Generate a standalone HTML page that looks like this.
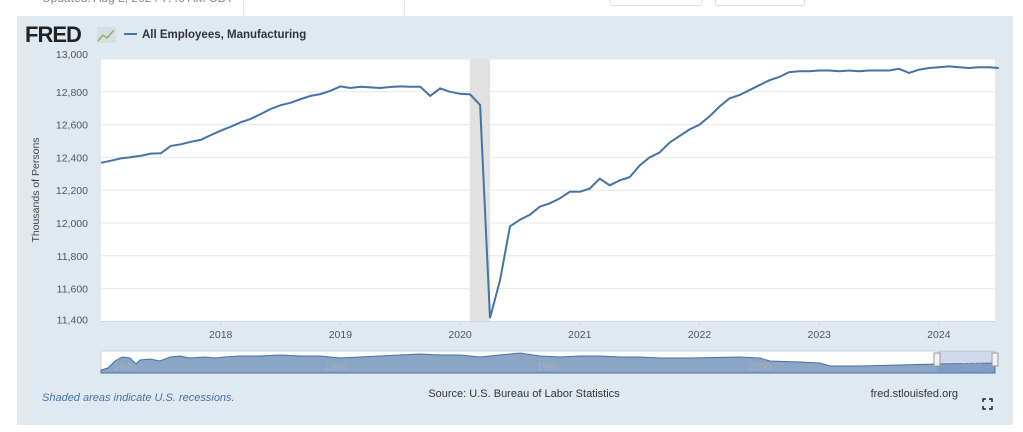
<!DOCTYPE html>
<html><head><meta charset="utf-8"><style>
body{margin:0;width:1023px;height:432px;background:#fff;font-family:"Liberation Sans",sans-serif;overflow:hidden;position:relative}
.t{position:absolute}
</style></head><body>
<div class="t" style="left:42px;top:-9px;font-size:12px;color:#888">Updated: Aug 2, 2024 7:46 AM CDT</div>
<div class="t" style="left:243px;top:0;width:1px;height:15px;background:#e3e7ec"></div>
<div class="t" style="left:404px;top:0;width:1px;height:15px;background:#e3e7ec"></div>
<div class="t" style="left:610px;top:-10px;width:90px;height:14px;border:1px solid #ddd;border-radius:3px"></div>
<div class="t" style="left:715px;top:-10px;width:88px;height:14px;border:1px solid #ddd;border-radius:3px"></div>
<svg class="t" style="left:0;top:0" width="1023" height="432">
<rect x="17" y="16" width="996" height="409" fill="#e1e9f0"/>
<text x="25" y="42" font-size="22" font-weight="bold" fill="#222" font-family="Liberation Sans" letter-spacing="-1">FRED</text>
<rect x="97" y="27" width="19" height="16" fill="#d8dee4"/>
<polyline points="98,41 103,35 107,38 114,30" fill="none" stroke="#8fb06a" stroke-width="1.5"/>
<line x1="124" y1="34" x2="137" y2="34" stroke="#4572a7" stroke-width="2"/>
<text x="142" y="38" font-size="11.5" font-weight="bold" fill="#333">All Employees, Manufacturing</text>
<rect x="101" y="59" width="894" height="262" fill="#fff"/>
<g id="grid"></g>
<g id="rec"></g>
<g id="ylab" font-size="10.5" fill="#555" text-anchor="end"></g>
<g id="xlab" font-size="10.5" fill="#555" text-anchor="middle"></g>
<path id="line" fill="none" stroke="#4572a7" stroke-width="2"/>
<text transform="translate(39,190) rotate(-90)" font-size="10.5" fill="#444" text-anchor="middle">Thousands of Persons</text>
<rect x="101" y="351" width="894" height="22" fill="#fff" stroke="#ccd6e0"/>
<path d="M101,373 L101,370 L108,368 L115,361 L122,357 L130,358 L136,364 L140,360 L150,359 L160,361 L170,357 L180,356 L190,358 L205,357 L215,358 L225,357 L240,356 L260,356 L280,355 L300,356 L320,356 L340,358 L360,357 L380,356 L400,355 L420,354 L440,355 L460,355 L480,357 L500,355 L520,353 L540,356 L560,357 L580,356 L600,356 L620,357 L640,357 L660,358 L690,358 L740,357 L760,358 L770,361 L800,362 L820,363 L830,366 L860,366 L900,365 L937,364 L995,363 L995,373 Z" fill="#8aa6c4" stroke="#4572a7" stroke-width="1"/>
<g font-size="10" fill="#a4b0bd" text-anchor="middle"><text x="125" y="370">1940</text><text x="336" y="370">1960</text><text x="548" y="370">1980</text><text x="760" y="370">2000</text><text x="972" y="370">2020</text></g>
<rect x="937" y="351" width="58" height="22" fill="#6685c2" opacity="0.3"/>
<rect x="934" y="353" width="6" height="13" fill="#f2f2f2" stroke="#999"/>
<rect x="992" y="353" width="6" height="13" fill="#f2f2f2" stroke="#999"/>
<text x="42" y="401" font-size="11" font-style="italic" fill="#4572a7">Shaded areas indicate U.S. recessions.</text>
<text x="524" y="397" font-size="11" fill="#333" text-anchor="middle">Source: U.S. Bureau of Labor Statistics</text>
<text x="958" y="397" font-size="11" fill="#333" text-anchor="end">fred.stlouisfed.org</text>
<g stroke="#222" stroke-width="1.5" fill="none"><path d="M983,402 v-3 h3 M989,399 h3 v3 M992,406 v3 h-3 M986,409 h-3 v-3"/></g>
</svg>
<script>
const yTicks=[11400,11600,11800,12000,12200,12400,12600,12800,13000];
const xYears=[2018,2019,2020,2021,2022,2023,2024];
const startYear=2017;
const values=[12367,12380,12394,12402,12410,12423,12425,12470,12480,12495,12507,12536,
12563,12587,12614,12635,12664,12695,12718,12733,12755,12775,12786,12806,
12833,12823,12831,12827,12823,12829,12833,12831,12831,12775,12821,12800,
12788,12784,12720,11420,11650,11980,12020,12050,12100,12120,12150,12190,
12190,12210,12270,12230,12260,12280,12350,12400,12430,12490,12530,12570,
12600,12650,12710,12760,12780,12810,12840,12870,12890,12920,12925,12925,
12930,12930,12925,12930,12925,12930,12930,12930,12940,12915,12935,12945,
12950,12955,12950,12945,12950,12950,12945];
const recessions=[[2020.08,2020.25]];
const X=t=>101+(t-startYear)*119.7;
const Y=v=>59+(13000-v)/200*32.8;
const ns="http://www.w3.org/2000/svg";
const g=document.getElementById('grid'),yl=document.getElementById('ylab'),xl=document.getElementById('xlab'),rc=document.getElementById('rec');
yTicks.forEach(v=>{
 const l=document.createElementNS(ns,'line');
 l.setAttribute('x1',101);l.setAttribute('x2',995);l.setAttribute('y1',Y(v));l.setAttribute('y2',Y(v));
 l.setAttribute('stroke',v==11400?'#ccd6eb':'#e6e6e6');
 
 
 g.appendChild(l);
 const t=document.createElementNS(ns,'text');
 t.setAttribute('x',88);t.setAttribute('y',Y(v)+4-(v==13000?5:0)+(v==11400?-2:0));
 t.textContent=v.toLocaleString('en-US');
 
 
 yl.appendChild(t);
});
xYears.forEach(y=>{
 const t=document.createElementNS(ns,'text');
 t.setAttribute('x',X(y));t.setAttribute('y',338);t.textContent=y;
 
 
 xl.appendChild(t);
 const l=document.createElementNS(ns,'line');
 l.setAttribute('x1',X(y));l.setAttribute('x2',X(y));l.setAttribute('y1',321);l.setAttribute('y2',326);l.setAttribute('stroke','#ccd6eb');
 
 
 g.appendChild(l);
});
recessions.forEach(r=>{
 const e=document.createElementNS(ns,'rect');
 e.setAttribute('x',X(r[0]));e.setAttribute('y',59);e.setAttribute('width',X(r[1])-X(r[0]));e.setAttribute('height',262);e.setAttribute('fill','#e1e1e1');
 
 
 rc.appendChild(e);
});
document.getElementById('line').setAttribute('d',values.map((v,i)=>(i?'L':'M')+X(startYear+i/12).toFixed(1)+','+Y(v).toFixed(1)).join(' '));
</script>
</body></html>
